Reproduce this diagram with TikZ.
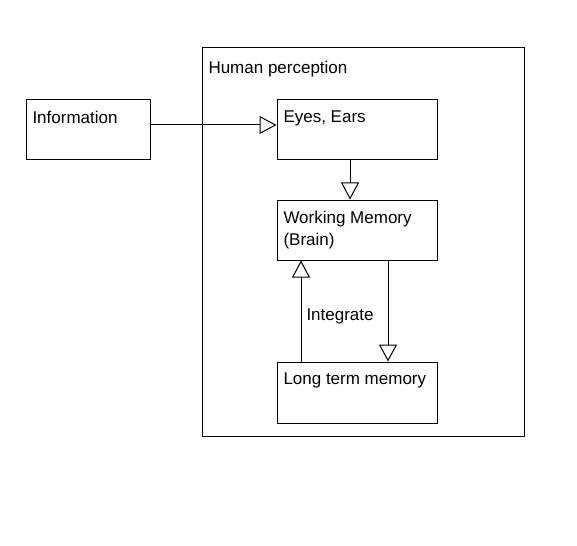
\documentclass[tikz,border=0pt]{standalone}
\usepackage{fontspec}
\setmainfont{Liberation Sans}
\usetikzlibrary{arrows.meta}

\begin{document}
\begin{tikzpicture}[x=1pt,y=-1pt,line width=1pt,
        box/.style={draw,rectangle,inner sep=0pt,minimum width=160pt,minimum height=60pt},
        lbl/.style={anchor=north west,inner sep=0pt,xshift=6.5pt,yshift=-11pt,align=left,
            font=\fontsize{17}{22}\selectfont},
        arr/.style={-{Triangle[open,length=17pt,width=18pt]}}]
            \useasboundingbox (0,0) rectangle (577,545);
            % boxes
            \node[box,minimum width=322pt,minimum height=388pt,label={[lbl,yshift=-2pt]north west:Human perception}] (hp) at (363,242) {};
            \node[box,minimum width=124pt,label={[lbl]north west:Information}] (info) at (88,130) {};
            \node[box,label={[lbl]north west:Eyes, Ears}] (eyes) at (357,130) {};
            \node[box,label={[lbl]north west:Working Memory\\(Brain)}] (wm) at (357,230) {};
            \node[box,minimum height=61pt,label={[lbl]north west:Long term memory}] (ltm) at (357,392.5) {};
            % arrows
            \draw[arr] ([yshift=5pt]info.east) -- ([yshift=5pt]eyes.west);
            \draw[arr] ([xshift=-7pt]eyes.south) -- ([xshift=-7pt]wm.north);
            \draw[arr] ([xshift=-56pt]ltm.north) -- ([xshift=-56pt]wm.south)
                node[pos=0.45,anchor=west,inner sep=0pt,xshift=5pt,font=\fontsize{17}{21}\selectfont] (integ) {Integrate};
            \draw[arr] ([xshift=31pt]wm.south) -- ([xshift=31pt]ltm.north);
        \end{tikzpicture}
\end{document}
